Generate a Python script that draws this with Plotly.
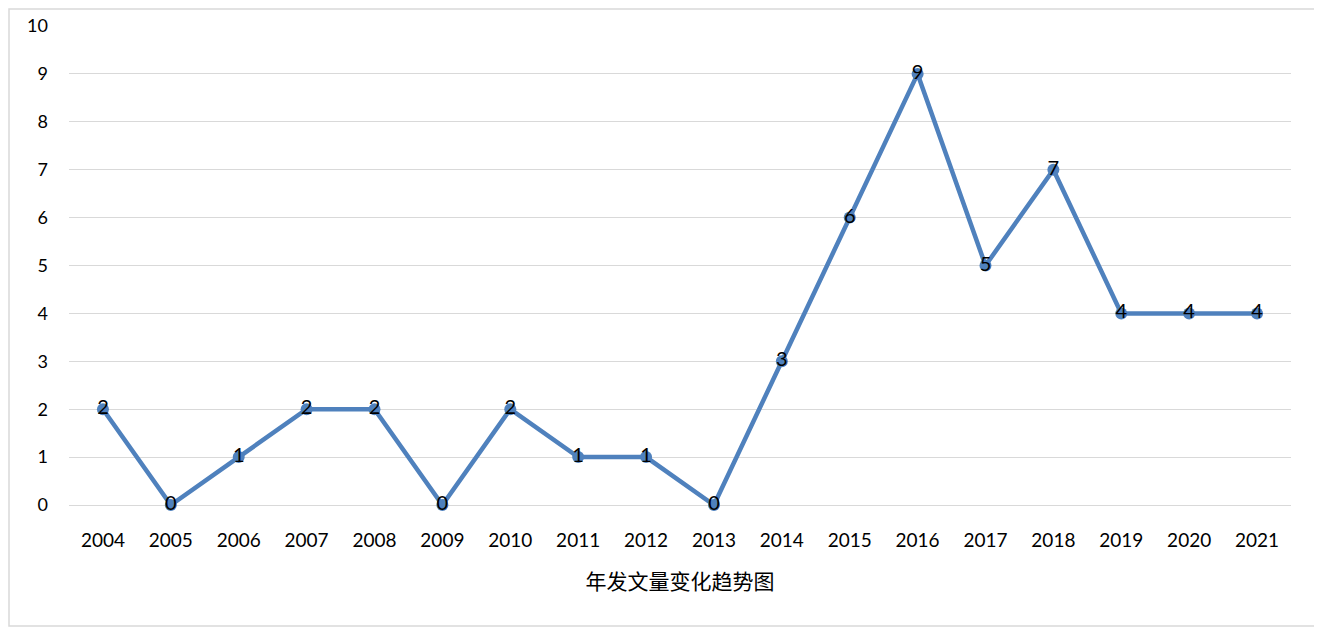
import plotly.graph_objects as go

years = [str(y) for y in range(2004, 2022)]
counts = [2, 0, 1, 2, 2, 0, 2, 1, 1, 0, 3, 6, 9, 5, 7, 4, 4, 4]
y_ticks = list(range(0, 11))
x_title = "年发文量变化趋势图"

# the page body adds an 8px offset, so margins are shifted by that much
W, H = 1322, 632
L, R, T, B = 61, 39, 18, 135
pw, ph = W - L - R, H - T - B

fig = go.Figure(go.Scatter(
    x=years, y=counts,
    mode="lines+markers+text",
    text=[str(v) for v in counts],
    textposition="middle center",
    textfont=dict(size=20, color="black", family="Lato, Noto Sans"),
    line=dict(color="#4F81BD", width=4.5),
    marker=dict(color="#4F81BD", size=12),
    cliponaxis=False,
    hoverinfo="x+y",
))

# light frame round the whole chart
fig.add_shape(type="rect", xref="paper", yref="paper",
              x0=(1 - L) / pw, x1=(1308 - L) / pw,
              y0=(H - B - 618) / ph, y1=(H - B - 1) / ph,
              line=dict(color="#d9d9d9", width=1.5), layer="below")

fig.update_layout(
    width=W, height=H,
    margin=dict(l=L, r=R, t=T, b=B),
    plot_bgcolor="white", paper_bgcolor="white",
    showlegend=False,
    font=dict(family="Lato, Noto Sans CJK SC", size=18, color="black"),
    xaxis=dict(
        type="category", range=[-0.5, len(years) - 0.5],
        showgrid=False, showline=False, ticks="",
        automargin=False,
        tickfont=dict(size=19), ticklabelstandoff=22,
        title=dict(text=x_title, standoff=24,
                   font=dict(family="Noto Sans CJK SC", size=21)),
    ),
    yaxis=dict(
        range=[0, 10], tickvals=y_ticks, showgrid=True, automargin=False,
        gridcolor="#d9d9d9", gridwidth=1.3,
        zeroline=True, zerolinecolor="#d9d9d9", zerolinewidth=1.3,
        showline=False, ticks="", tickfont=dict(size=18),
        ticklabelstandoff=20,
    ),
)

fig.write_html("out.html")
